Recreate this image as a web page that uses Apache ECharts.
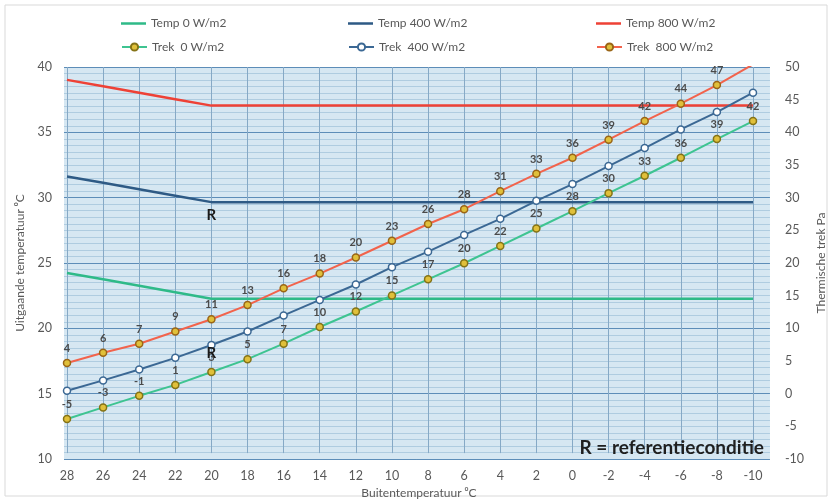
<!DOCTYPE html>
<html><head><meta charset="utf-8">
<script src="https://cdn.jsdelivr.net/npm/echarts@6/dist/echarts.min.js"></script>
<style>html,body{margin:0;padding:0;background:#fff}#c{width:835px;height:504px}</style>
</head><body><div id="c"></div>
<script>
const categories = ['28','26','24','22','20','18','16','14','12','10','8','6','4','2','0','-2','-4','-6','-8','-10'];
const temp0   = [24, 23.5, 23, 22.5, 22, 22, 22, 22, 22, 22, 22, 22, 22, 22, 22, 22, 22, 22, 22, 22];
const temp400 = [31.5, 31, 30.5, 30, 29.5, 29.5, 29.5, 29.5, 29.5, 29.5, 29.5, 29.5, 29.5, 29.5, 29.5, 29.5, 29.5, 29.5, 29.5, 29.5];
const temp800 = [39, 38.5, 38, 37.5, 37, 37, 37, 37, 37, 37, 37, 37, 37, 37, 37, 37, 37, 37, 37, 37];
const trek0   = [-4.7, -2.9, -1.1, 0.6, 2.6, 4.6, 7.0, 9.6, 12.0, 14.5, 17.0, 19.5, 22.2, 24.9, 27.6, 30.4, 33.1, 35.9, 38.8, 41.6];
const trek400 = [-0.3, 1.3, 3.0, 4.8, 6.8, 8.9, 11.4, 13.8, 16.2, 18.9, 21.3, 23.9, 26.4, 29.2, 31.8, 34.6, 37.4, 40.3, 43.0, 46.0];
const trek800 = [4.0, 5.6, 7.0, 8.9, 10.8, 13.0, 15.6, 17.9, 20.4, 23.0, 25.6, 27.9, 30.7, 33.4, 35.9, 38.7, 41.6, 44.3, 47.2, 50.4];
const seriesNames = ['Temp 0 W/m2','Temp 400 W/m2','Temp 800 W/m2','Trek  0 W/m2','Trek  400 W/m2','Trek  800 W/m2'];
const refIndex = 4;        // 20 °C reference condition
const refMark = 'R';
const noteText = 'R = referentieconditie';
const leftName = 'Uitgaande temperatuur \u2070C';
const rightName = 'Thermische trek Pa';
const xName = 'Buitentemperatuur \u2070C';

const FONT = 'Lato, "Liberation Sans", sans-serif';
const txt = '#595959';
const chart = echarts.init(document.getElementById('c'), null, {renderer:'canvas'});

const rLabel = (pos, off) => ({show:true, formatter: refMark, position: pos, offset: off, fontSize: 15, fontWeight: 'bold', color: '#1a1a1a', fontFamily: FONT});
const valLabel = {show:true, position:'top', distance:5, fontSize:11, fontWeight:'bold', color:'#4a4a4a', fontFamily: FONT, formatter: p => String(Math.round(p.value))};
// legend icon: a plain line (tiny dots at top/bottom keep the bounding box so the bar stays thin)
const lineIcon = 'path://M0,0L0.01,0L0.01,0.01Z M0,6.3H25V8.7H0Z M0,14L0.01,14L0.01,13.99Z';

const colLeft = [116, 343, 591];
const legendText = {color:txt, fontSize:12, fontFamily:FONT};
const legends = [];
for (let c = 0; c < 3; c++) {
  legends.push({data:[{name: seriesNames[c], icon: lineIcon}], left: colLeft[c], top: 11, itemWidth:25, itemHeight:14, textStyle: legendText});
  legends.push({data:[seriesNames[c+3]], left: colLeft[c], top: 36, itemWidth:25, itemHeight:9, textStyle: legendText});
}

const plotTop = 67, plotBottom = 45;
const option = {
  backgroundColor: '#fff',
  animation: false,
  textStyle: {fontFamily: FONT},
  graphic: [{type:'rect', shape:{x:5, y:5, width:822, height:491}, style:{fill:'none', stroke:'#d9d9d9', lineWidth:1}, silent:true, z:-10}],
  title: {text: noteText, right: 66, top: 433, textStyle: {fontSize: 19, fontWeight: 'bold', color: '#1f1f1f', fontFamily: FONT}},
  legend: legends,
  grid: [
    {left:64, right:63, top:plotTop, bottom:plotBottom, show:true, backgroundColor:'#d6e7f2', borderWidth:0},
    {left:67, right:82, top:plotTop, bottom:plotBottom}
  ],
  xAxis: [
    {gridIndex:0, type:'value', min:0, max:1, show:false},
    {gridIndex:1, type:'category', data: categories, boundaryGap:false,
     axisLine:{show:false}, axisTick:{show:false},
     axisLabel:{color:txt, fontSize:12.5, margin:16, interval:0, fontFamily:FONT},
     splitLine:{show:true, interval:0, lineStyle:{color:'#86a9c6', width:1}},
     name: xName, nameLocation:'middle', nameGap:32,
     nameTextStyle:{color:txt, fontSize:12, fontFamily:FONT, padding:[0,0,0,18]}}
  ],
  yAxis: [
    {gridIndex:0, type:'value', min:10, max:40, interval:5, position:'left',
     axisLine:{show:false}, axisTick:{show:false},
     axisLabel:{color:txt, fontSize:12.5, margin:12, fontFamily:FONT},
     splitLine:{show:true, lineStyle:{color:'#5d8db8', width:1}},
     minorTick:{show:false, splitNumber:10},
     minorSplitLine:{show:true, lineStyle:{color:'#afcce0', width:1}},
     name:leftName, nameLocation:'middle', nameGap:35, nameRotate:90,
     nameTextStyle:{color:txt, fontSize:12, fontFamily:FONT}},
    {gridIndex:0, type:'value', min:-10, max:50, interval:5, position:'right',
     axisLine:{show:false}, axisTick:{show:false}, splitLine:{show:false},
     axisLabel:{color:txt, fontSize:12.5, margin:15, fontFamily:FONT},
     name:rightName, nameLocation:'middle', nameGap:40, nameRotate:90,
     nameTextStyle:{color:txt, fontSize:12, fontFamily:FONT}},
    {gridIndex:1, type:'value', min:10, max:40, interval:5, show:false, splitLine:{show:false}},
    {gridIndex:1, type:'value', min:-10, max:50, interval:5, show:false, splitLine:{show:false}}
  ],
  series: []
};

function tempSeries(name, data, color, withR) {
  return {name, type:'line', xAxisIndex:1, yAxisIndex:2,
    data: data.map((v,i)=> (withR && i===refIndex) ? {value:v, label: rLabel('bottom',[0,1])} : v),
    symbol:'circle', symbolSize:0.01, showSymbol:true, showAllSymbol:true,
    lineStyle:{color, width:2.5}, itemStyle:{color}, label:{show:false}, z:3};
}
function trekSeries(name, data, lineColor, fill, border, labels, withR) {
  return {name, type:'line', xAxisIndex:1, yAxisIndex:3,
    data: data.map((v,i)=>{
      if (withR && i===refIndex) return {value:v, label: rLabel('inside',[0,8])};
      if (v > 50) return {value:v, symbol:'none', label:{show:false}};
      return v;
    }),
    symbol:'circle', symbolSize:7, showAllSymbol:true,
    lineStyle:{color:lineColor, width:2},
    itemStyle:{color:fill, borderColor:border, borderWidth:1.5},
    label: labels ? valLabel : {show:false}, z:4};
}
option.series.push(tempSeries(seriesNames[0], temp0, '#2fba88', false));
option.series.push(tempSeries(seriesNames[1], temp400, '#2e5a85', true));
option.series.push(tempSeries(seriesNames[2], temp800, '#ee4136', false));
option.series.push(trekSeries(seriesNames[3], trek0, '#3ec491', '#e0c03a', '#857316', true, false));
option.series.push(trekSeries(seriesNames[4], trek400, '#3b6894', '#ffffff', '#3b6894', false, true));
option.series.push(trekSeries(seriesNames[5], trek800, '#f2634c', '#e0c03a', '#9a6516', true, false));
chart.setOption(option);
</script></body></html>
